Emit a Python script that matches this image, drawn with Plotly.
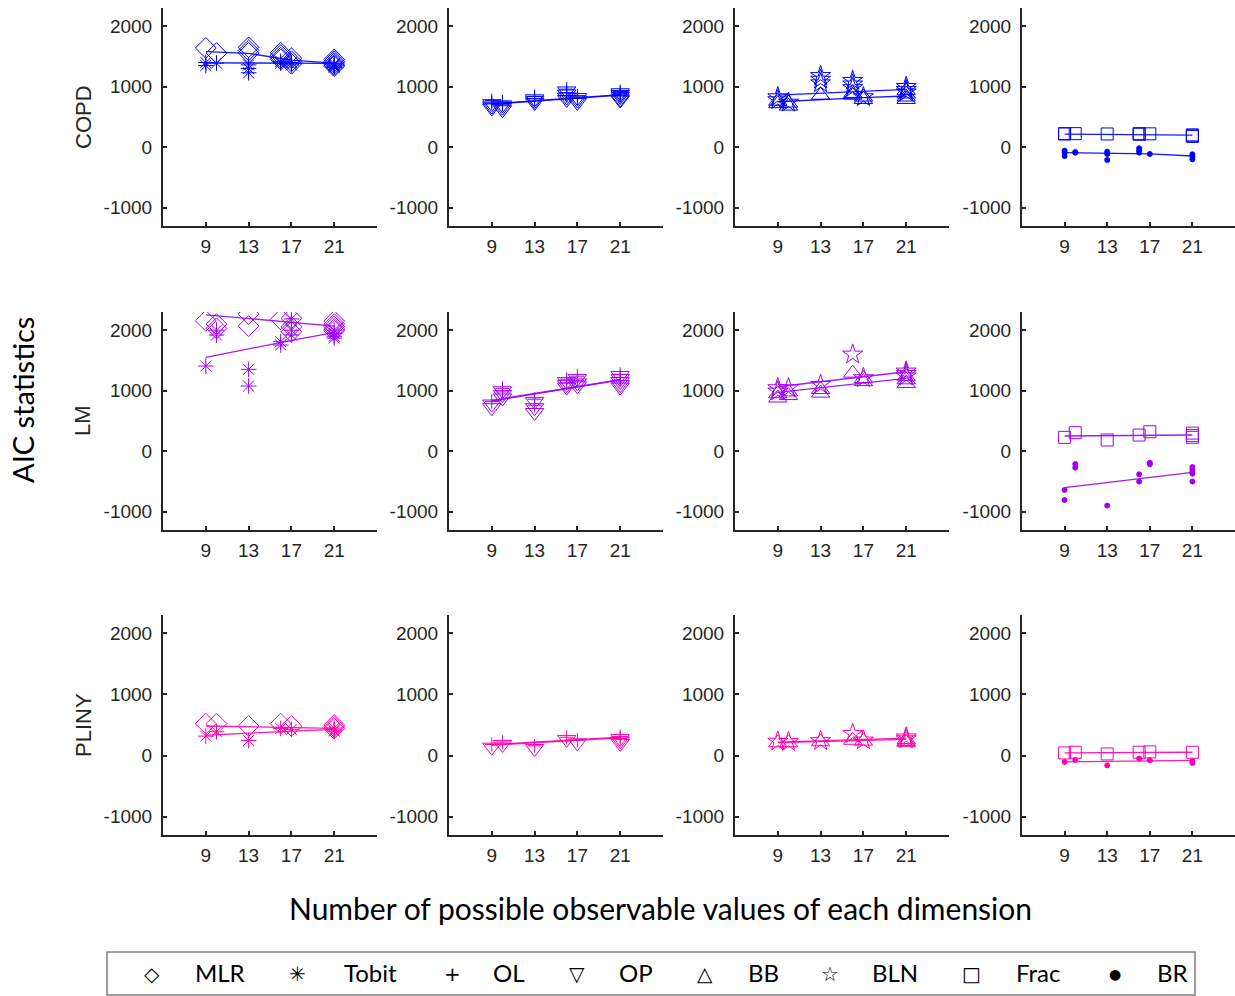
import plotly.graph_objects as go

# ---- shared axes ----
X_POS = [9, 10, 13, 16, 17, 21]          # x positions of the point clusters
TREND_X = [9, 13, 17, 21]                # x positions of the trend polylines
X_TICKS = [9, 13, 17, 21]
Y_TICKS = [-1000, 0, 1000, 2000]
DATASETS = ["COPD", "LM", "PLINY"]
ROW_COLORS = ["#0000FF", "#A000F5", "#FF00AA"]

# ---- COPD ----
COPD_MLR = [[1640], [1555], [1650, 1600, 1560], [1560, 1520, 1480, 1450], [1470, 1420, 1380], [1450, 1420, 1390, 1360, 1340]]
COPD_TOBIT = [[1400, 1350], [1390], [1360, 1300, 1230], [1420, 1390], [1400, 1360], [1380, 1360, 1340, 1320]]
COPD_OP = [[720, 680, 650], [700, 660, 620], [800, 770, 740], [930, 880, 830, 790], [820, 780, 740], [900, 870, 840, 800, 780]]
COPD_OL = [[770, 730], [750, 710], [840, 800], [960, 900, 850], [850, 810], [920, 890, 860]]
COPD_BB = [[760, 720], [730, 680], [860], [890, 860], [830, 790], [940, 880, 830, 790]]
COPD_BLN = [[830, 780], [740], [1180, 1120, 1060], [1100, 1040, 980], [830], [1000, 950, 910]]
COPD_FRAC = [[225, 220], [225], [220], [225, 215], [222], [205, 190, 180]]
COPD_BR = [[-56, -89, -144], [-89, -80], [-72, -110, -210], [-17, -56, -89], [-110], [-116, -155, -198]]

COPD_MLR_TREND = [1578, 1550, 1440, 1390]
COPD_TOBIT_TREND = [1395, 1392, 1390, 1386]
COPD_OP_TREND = [710, 760, 800, 860]
COPD_OL_TREND = [720, 770, 810, 870]
COPD_BB_TREND = [752, 790, 820, 847]
COPD_BLN_TREND = [862, 895, 930, 957]
COPD_FRAC_TREND = [218, 215, 210, 200]
COPD_BR_TREND = [-89, -95, -110, -144]

# ---- LM ----
LM_MLR = [[2155], [2100, 2030], [2265, 2068], [2178], [2195, 2056, 1974], [2150, 2100, 2060, 2020, 1990]]
LM_TOBIT = [[1408], [2000, 1920], [1353, 1078], [1810, 1755], [2185, 2000, 1920], [2000, 1950, 1900, 1870]]
LM_OP = [[780, 720], [1000, 940, 880], [820, 720, 640], [1150, 1100, 1060], [1200, 1130, 1080], [1250, 1200, 1150, 1100, 1060]]
LM_OL = [[820], [1040, 980], [860, 760], [1190, 1130], [1240, 1170], [1270, 1220, 1170]]
LM_BB = [[950, 880], [980, 920], [1020, 960], [1290], [1200, 1150], [1230, 1180, 1120]]
LM_BLN = [[1045, 990], [1045], [1100], [1600], [1210], [1320, 1280, 1240]]
LM_FRAC = [[230], [307], [186], [268], [323], [300, 260, 230]]
LM_BR = [[-639, -804], [-210, -270], [-897], [-380, -501], [-188, -215], [-260, -300, -340, -370, -500]]

LM_MLR_TREND = [2254, 2193, 2134, 2068]
LM_TOBIT_TREND = [1551, 1693, 1831, 1958]
LM_OP_TREND = [830, 946, 1061, 1177]
LM_OL_TREND = [840, 955, 1070, 1185]
LM_BB_TREND = [973, 1050, 1127, 1204]
LM_BLN_TREND = [1066, 1148, 1231, 1313]
LM_FRAC_TREND = [252, 258, 264, 269]
LM_BR_TREND = [-600, -515, -431, -347]

# ---- PLINY ----
PLINY_MLR = [[522], [522], [484], [522], [484], [500, 470, 440]]
PLINY_TOBIT = [[318], [390], [247], [445], [429], [450, 420, 400]]
PLINY_OP = [[137], [181], [115], [264], [208], [280, 240, 200]]
PLINY_OL = [[180], [220], [160], [300], [250], [310, 280]]
PLINY_BB = [[208], [208], [225], [250], [236], [260, 230, 210]]
PLINY_BLN = [[230], [225], [240], [357], [250], [300, 270]]
PLINY_FRAC = [[43], [54], [27], [54], [60], [54]]
PLINY_BR = [[-105], [-72], [-160], [-50], [-78], [-90, -120]]

PLINY_MLR_TREND = [484, 471, 458, 445]
PLINY_TOBIT_TREND = [335, 366, 398, 429]
PLINY_OP_TREND = [170, 210, 250, 290]
PLINY_OL_TREND = [180, 220, 260, 300]
PLINY_BB_TREND = [210, 225, 245, 265]
PLINY_BLN_TREND = [220, 240, 260, 285]
PLINY_FRAC_TREND = [43, 47, 51, 54]
PLINY_BR_TREND = [-105, -95, -82, -78]

# ---- legend ----
LEGEND_LABELS = ["MLR", "Tobit", "OL", "OP", "BB", "BLN", "Frac", "BR"]
LEGEND_GLYPHS = ["\u25C7", "\u2733", "+", "\u25BD", "\u25B3", "\u2606", "\u25A1", "\u25CF"]

# model -> (marker symbol, marker size)
STYLE = {
    "MLR": ("diamond-open", 16),
    "Tobit": ("asterisk-open", 13),
    "OL": ("cross-thin-open", 10),
    "OP": ("triangle-down-open", 16),
    "BB": ("triangle-up-open", 16),
    "BLN": ("star-open", 15),
    "Frac": ("square-open", 12),
    "BR": ("circle", 5),
}

PANELS = [
    [  # COPD
        [("MLR", COPD_MLR, COPD_MLR_TREND), ("Tobit", COPD_TOBIT, COPD_TOBIT_TREND)],
        [("OP", COPD_OP, COPD_OP_TREND), ("OL", COPD_OL, COPD_OL_TREND)],
        [("BB", COPD_BB, COPD_BB_TREND), ("BLN", COPD_BLN, COPD_BLN_TREND)],
        [("Frac", COPD_FRAC, COPD_FRAC_TREND), ("BR", COPD_BR, COPD_BR_TREND)],
    ],
    [  # LM
        [("MLR", LM_MLR, LM_MLR_TREND), ("Tobit", LM_TOBIT, LM_TOBIT_TREND)],
        [("OP", LM_OP, LM_OP_TREND), ("OL", LM_OL, LM_OL_TREND)],
        [("BB", LM_BB, LM_BB_TREND), ("BLN", LM_BLN, LM_BLN_TREND)],
        [("Frac", LM_FRAC, LM_FRAC_TREND), ("BR", LM_BR, LM_BR_TREND)],
    ],
    [  # PLINY
        [("MLR", PLINY_MLR, PLINY_MLR_TREND), ("Tobit", PLINY_TOBIT, PLINY_TOBIT_TREND)],
        [("OP", PLINY_OP, PLINY_OP_TREND), ("OL", PLINY_OL, PLINY_OL_TREND)],
        [("BB", PLINY_BB, PLINY_BB_TREND), ("BLN", PLINY_BLN, PLINY_BLN_TREND)],
        [("Frac", PLINY_FRAC, PLINY_FRAC_TREND), ("BR", PLINY_BR, PLINY_BR_TREND)],
    ],
]

W, H = 1235, 996
COL_PX = [(163, 377), (449, 663), (735, 949), (1022, 1235)]
ROW_PX = [(8, 226), (312, 530), (615, 835)]
AXIS_COLOR = "#262626"
SANS = "Liberation Sans, Arial, sans-serif"
TICK_FONT = dict(family=SANS, size=19, color=AXIS_COLOR)

fig = go.Figure()
layout = {}

for r, row in enumerate(PANELS):
    color = ROW_COLORS[r]
    for c, groups in enumerate(row):
        k = r * 4 + c + 1
        xa = "x" if k == 1 else f"x{k}"
        ya = "y" if k == 1 else f"y{k}"
        for model, clusters, trend in groups:
            sym, size = STYLE[model]
            xs, ys = [], []
            for xv, vals in zip(X_POS, clusters):
                xs.extend([xv] * len(vals))
                ys.extend(vals)
            fig.add_trace(go.Scatter(
                x=TREND_X, y=trend, mode="lines", xaxis=xa, yaxis=ya,
                line=dict(color=color, width=1.3), opacity=0.9,
                showlegend=False, hoverinfo="skip"))
            fig.add_trace(go.Scatter(
                x=xs, y=ys, mode="markers", xaxis=xa, yaxis=ya, name=model,
                marker=dict(symbol=sym, size=size, color=color,
                            line=dict(color=color, width=1)),
                showlegend=False))
        x0, x1 = COL_PX[c]
        y0, y1 = ROW_PX[r]
        layout["xaxis" if k == 1 else f"xaxis{k}"] = dict(
            domain=[x0 / W, x1 / W], anchor=ya, range=[5, 25],
            tickvals=X_TICKS, ticktext=[str(v) for v in X_TICKS],
            ticks="inside", ticklen=4, tickcolor=AXIS_COLOR, tickwidth=1.5,
            showline=True, linecolor=AXIS_COLOR, linewidth=2,
            showgrid=False, zeroline=False, tickfont=TICK_FONT,
            ticklabelstandoff=2, fixedrange=True)
        layout["yaxis" if k == 1 else f"yaxis{k}"] = dict(
            domain=[1 - y1 / H, 1 - y0 / H], anchor=xa, range=[-1300, 2300],
            tickvals=Y_TICKS, ticktext=[str(v) for v in Y_TICKS],
            ticks="inside", ticklen=4, tickcolor=AXIS_COLOR, tickwidth=1.5,
            showline=True, linecolor=AXIS_COLOR, linewidth=2,
            showgrid=False, zeroline=False, tickfont=TICK_FONT,
            ticklabelstandoff=5, fixedrange=True)

annotations = []
# row labels
for r, name in enumerate(DATASETS):
    y0, y1 = ROW_PX[r]
    annotations.append(dict(
        text=name, x=83 / W, y=1 - (y0 + y1) / 2 / H, xref="paper", yref="paper",
        textangle=-90, showarrow=False, xanchor="center", yanchor="middle",
        font=dict(family=SANS, size=22, color=AXIS_COLOR)))

annotations.append(dict(
    text="AIC statistics", x=22 / W, y=1 - 400 / H, xref="paper", yref="paper",
    textangle=-90, showarrow=False, xanchor="center", yanchor="middle",
    font=dict(family="Lato, sans-serif", size=29, color="#000000")))

annotations.append(dict(
    text="Number of possible observable values of each dimension",
    x=660 / W, y=1 - 908 / H, xref="paper", yref="paper",
    showarrow=False, xanchor="center", yanchor="middle",
    font=dict(family="Lato, sans-serif", size=30, color="#000000")))

# legend entries drawn as glyph + label pairs inside a framed box
GLYPH_X = [152, 297, 452, 577, 705, 830, 971, 1115]
LABEL_X = [220, 370, 509, 636, 763, 895, 1038, 1172]
for gx, lx, g, lab in zip(GLYPH_X, LABEL_X, LEGEND_GLYPHS, LEGEND_LABELS):
    annotations.append(dict(
        text=g, x=gx / W, y=1 - 974 / H, xref="paper", yref="paper", showarrow=False,
        xanchor="center", yanchor="middle",
        font=dict(family="DejaVu Sans, sans-serif", size=20 if g != "\u25CF" else 14, color="#000000")))
    annotations.append(dict(
        text=lab, x=lx / W, y=1 - 972 / H, xref="paper", yref="paper", showarrow=False,
        xanchor="center", yanchor="middle",
        font=dict(family="Lato, sans-serif", size=24, color="#000000")))

shapes = [dict(
    type="rect", xref="paper", yref="paper",
    x0=107 / W, x1=1195 / W, y0=1 - 995 / H, y1=1 - 952 / H,
    line=dict(color="#7F7F7F", width=1.5), fillcolor="rgba(0,0,0,0)")]

fig.update_layout(
    width=W, height=H, margin=dict(l=0, r=0, t=0, b=0),
    paper_bgcolor="white", plot_bgcolor="white",
    showlegend=False, annotations=annotations, shapes=shapes, **layout)

fig.write_html("out.html")
